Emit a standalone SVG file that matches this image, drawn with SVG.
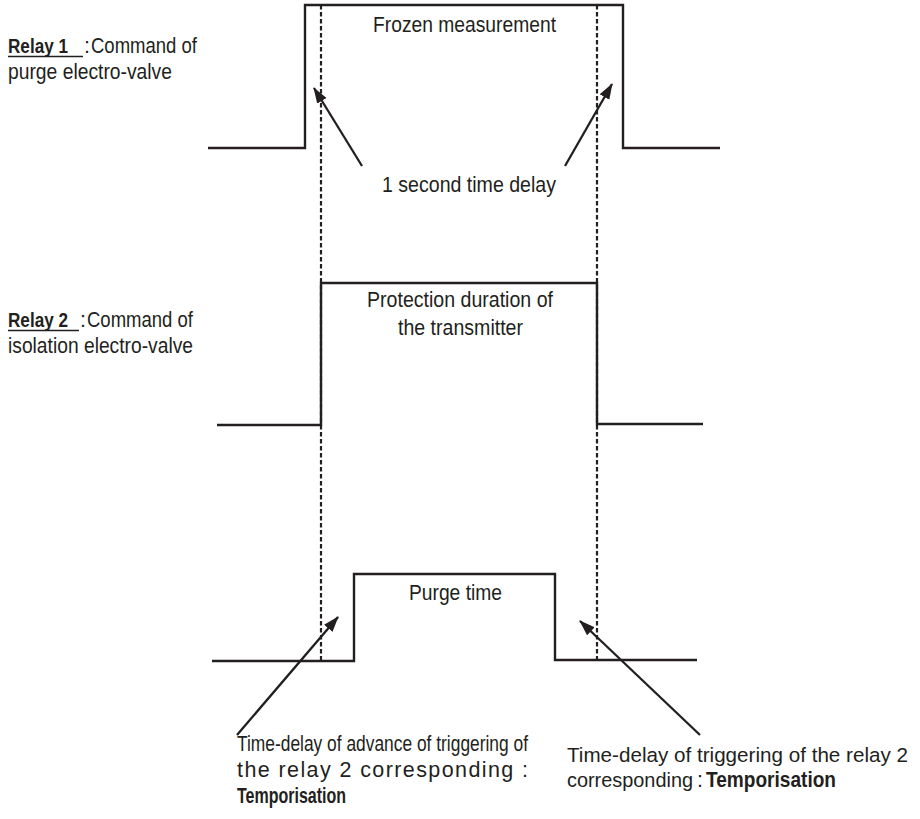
<svg xmlns="http://www.w3.org/2000/svg" width="920" height="819" viewBox="0 0 920 819">
<defs>
<marker id="ah" markerUnits="userSpaceOnUse" markerWidth="16" markerHeight="12" refX="15" refY="5.5" orient="auto">
<path d="M0,0 L16,5.5 L0,11 Z" fill="#231f20"/>
</marker>
<style>
.t{font-family:"Liberation Sans",Arial,sans-serif;font-size:21.5px;fill:#231f20}
.b{font-weight:bold}
.s{font-size:20px}
.w{fill:none;stroke:#231f20;stroke-width:2.4;stroke-linejoin:miter}
.d{fill:none;stroke:#231f20;stroke-width:2.2;stroke-dasharray:4.5 2.5}
.a{fill:none;stroke:#231f20;stroke-width:2.3}
</style>
</defs>
<rect width="920" height="819" fill="#fff"/>
<g id="relay1">
<polyline class="w" points="208,148 305,148 305,5 623,5 623,148 720,148"/>
<text class="t" x="373" y="32" textLength="183" lengthAdjust="spacingAndGlyphs">Frozen measurement</text>
</g>
<g id="relay1-label">
<text class="t b s" x="8" y="53" textLength="60" lengthAdjust="spacingAndGlyphs">Relay 1</text>
<text class="t" x="84" y="53">:</text>
<text class="t" x="91" y="53" textLength="106" lengthAdjust="spacingAndGlyphs">Command of</text>
<line x1="8" y1="56.5" x2="83" y2="56.5" stroke="#231f20" stroke-width="1.6"/>
<text class="t" x="8" y="79" textLength="164" lengthAdjust="spacingAndGlyphs">purge electro-valve</text>
</g>
<g id="relay2">
<polyline class="w" points="217,425 321,425 321,283 597,283 597,424 703,424"/>
<text class="t" x="367" y="307" textLength="186" lengthAdjust="spacingAndGlyphs">Protection duration of</text>
<text class="t" x="398" y="335" textLength="125" lengthAdjust="spacingAndGlyphs">the transmitter</text>
</g>
<g id="relay2-label">
<text class="t b s" x="8" y="327" textLength="60" lengthAdjust="spacingAndGlyphs">Relay 2</text>
<text class="t" x="80" y="327">:</text>
<text class="t" x="87" y="327" textLength="106" lengthAdjust="spacingAndGlyphs">Command of</text>
<line x1="8" y1="330.5" x2="79" y2="330.5" stroke="#231f20" stroke-width="1.6"/>
<text class="t" x="8" y="353" textLength="185" lengthAdjust="spacingAndGlyphs">isolation electro-valve</text>
</g>
<g id="purge">
<polyline class="w" points="212,661 354,661 354,574 555,574 555,660 697,660"/>
<text class="t" x="409" y="600" textLength="93" lengthAdjust="spacingAndGlyphs">Purge time</text>
</g>
<g id="delay-label">
<text class="t" x="382" y="192" textLength="174" lengthAdjust="spacingAndGlyphs">1 second time delay</text>
</g>
<g id="advance-label">
<text class="t" x="237" y="751" textLength="291" lengthAdjust="spacingAndGlyphs">Time-delay of advance of triggering of</text>
<text class="t" x="237" y="777" textLength="291" lengthAdjust="spacing">the relay 2 corresponding :</text>
<text class="t b" x="237" y="803" textLength="109" lengthAdjust="spacingAndGlyphs">Temporisation</text>
</g>
<g id="trigger-label">
<text class="t" x="567" y="762" style="font-size:20.5px" textLength="341" lengthAdjust="spacingAndGlyphs">Time-delay of triggering of the relay 2</text>
<text class="t s" x="567" y="787" textLength="126" lengthAdjust="spacingAndGlyphs">corresponding</text>
<text class="t" x="697" y="787">:</text>
<text class="t b" x="706" y="787" textLength="130" lengthAdjust="spacingAndGlyphs">Temporisation</text>
</g>
<g id="connectors">
<line class="d" x1="321" y1="5" x2="321" y2="662"/>
<line class="d" x1="597" y1="5" x2="597" y2="662"/>
<line class="a" x1="362" y1="166" x2="314" y2="88" marker-end="url(#ah)"/>
<line class="a" x1="565" y1="166" x2="612" y2="84" marker-end="url(#ah)"/>
<line class="a" x1="237" y1="735" x2="338" y2="617" marker-end="url(#ah)"/>
<line class="a" x1="700" y1="735" x2="580" y2="621" marker-end="url(#ah)"/>
</g>
</svg>
